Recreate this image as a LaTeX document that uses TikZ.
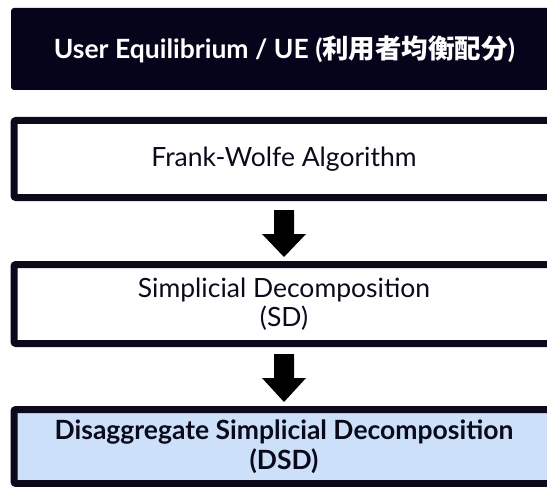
\documentclass[tikz,border=0pt]{standalone}
\usepackage{fontspec}
\setmainfont{Lato}
\newfontfamily\cjk{Noto Sans CJK JP}
\usetikzlibrary{calc}

\definecolor{navy}{HTML}{06041A}
\definecolor{edge}{HTML}{0B0A1A}
\definecolor{paleblue}{HTML}{CCE0FA}

\tikzset{
  stage/.style={rectangle, draw=edge, line width=7pt, rounded corners=2pt,
    minimum width=540pt, inner sep=0pt, align=center,
    font=\fontsize{26.5}{29}\selectfont, text=edge},
  headbox/.style={rectangle, fill=navy, rounded corners=3pt,
    minimum width=547pt, minimum height=82pt, inner sep=0pt,
    font=\fontsize{26.5}{30}\selectfont\bfseries, text=white},
  flowarrow/.style={fill=black},
}

\begin{document}
\begin{tikzpicture}[x=1pt, y=-1pt]
  \useasboundingbox (0,0) rectangle (547,487);
  \clip (0,0) rectangle (547,487);

  % title bar
  \node[headbox] (ue) at (284.5,49) {User Equilibrium / UE ({\cjk\bfseries 利用者均衡配分})};

  % algorithm stages
  \node[stage, minimum height=77pt] (fw) at (284,159) {Frank-Wolfe Algorithm};
  \node[stage, minimum height=79pt] (sd) at (284,304) {Simplicial Decomposition\\(SD)};
  \node[stage, minimum height=74pt, fill=paleblue, font=\fontsize{26.5}{30}\selectfont\bfseries]
    (dsd) at (284,446.5) {Disaggregate Simplicial Decomposition\\(DSD)};

  % block arrows between stages
  \fill[flowarrow]
    ($(fw.south)+(-10,9)$) -- ($(fw.south)+(10,9)$) --
    ($(sd.north)+(10,-27)$) -- ($(sd.north)+(22,-27)$) --
    ($(sd.north)+(0,-4)$) --
    ($(sd.north)+(-22,-27)$) -- ($(sd.north)+(-10,-27)$) -- cycle;
  \fill[flowarrow]
    ($(sd.south)+(-10,7)$) -- ($(sd.south)+(10,7)$) --
    ($(dsd.north)+(10,-28)$) -- ($(dsd.north)+(22,-28)$) --
    ($(dsd.north)+(0,-4)$) --
    ($(dsd.north)+(-22,-28)$) -- ($(dsd.north)+(-10,-28)$) -- cycle;
\end{tikzpicture}
\end{document}
